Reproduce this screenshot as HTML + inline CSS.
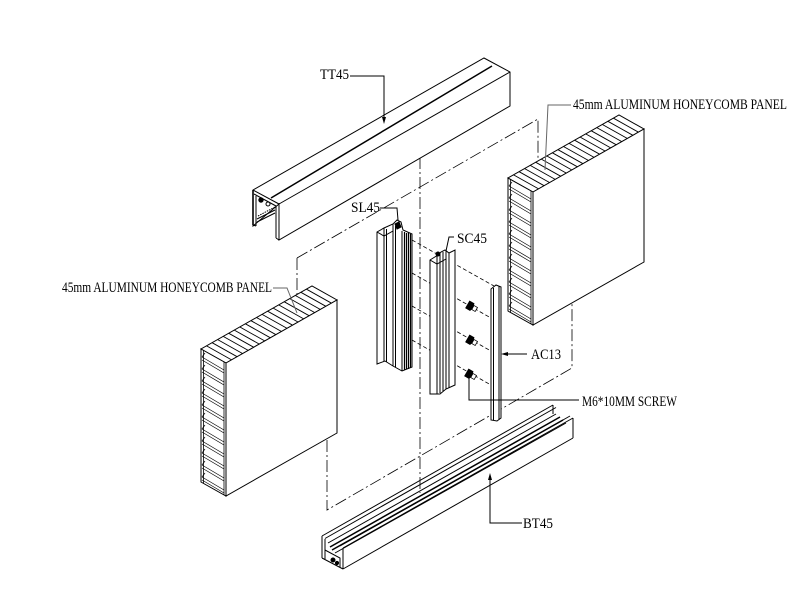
<!DOCTYPE html>
<html><head><meta charset="utf-8"><style>
html,body{margin:0;padding:0;background:#fff;}
svg{display:block;}
text{font-family:"Liberation Serif",serif;font-size:14.5px;fill:#000;}
</style></head><body>
<svg width="809" height="607" viewBox="0 0 809 607" xmlns="http://www.w3.org/2000/svg">
<defs>
<g id="panel" stroke="#000" stroke-width="1" fill="none">
  <polygon fill="#fff" points="533,192 644,129 619,115 508,178"/>
  <polygon fill="#fff" points="508,178 533,192 533,325 508,311"/>
  <polygon fill="#fff" points="533,192 644,129 644,262 533,325"/>
  <g stroke-width="0.9">
  <line x1="513.6" y1="174.9" x2="538.6" y2="188.9"/>
  <line x1="519.1" y1="171.7" x2="544.1" y2="185.7"/>
  <line x1="524.7" y1="168.6" x2="549.7" y2="182.6"/>
  <line x1="530.2" y1="165.4" x2="555.2" y2="179.4"/>
  <line x1="535.8" y1="162.3" x2="560.8" y2="176.3"/>
  <line x1="541.3" y1="159.1" x2="566.3" y2="173.1"/>
  <line x1="546.9" y1="156" x2="571.9" y2="170"/>
  <line x1="552.4" y1="152.8" x2="577.4" y2="166.8"/>
  <line x1="558" y1="149.7" x2="583" y2="163.7"/>
  <line x1="563.5" y1="146.5" x2="588.5" y2="160.5"/>
  <line x1="569.1" y1="143.4" x2="594.1" y2="157.4"/>
  <line x1="574.6" y1="140.2" x2="599.6" y2="154.2"/>
  <line x1="580.2" y1="137.1" x2="605.2" y2="151.1"/>
  <line x1="585.7" y1="133.9" x2="610.7" y2="147.9"/>
  <line x1="591.3" y1="130.8" x2="616.3" y2="144.8"/>
  <line x1="596.8" y1="127.6" x2="621.8" y2="141.6"/>
  <line x1="602.4" y1="124.5" x2="627.4" y2="138.5"/>
  <line x1="607.9" y1="121.3" x2="632.9" y2="135.3"/>
  <line x1="613.5" y1="118.2" x2="638.5" y2="132.2"/>
  </g>
  <line x1="510.5" y1="179" x2="510.5" y2="312.5" stroke-width="0.8"/>
  <line x1="531" y1="191" x2="531" y2="324" stroke-width="0.8"/>
  <path stroke-width="0.7" d="M509,186 L531,199 M509,189 L531,202 M509,198 L531,211 M509,201 L531,214 M509,210 L531,223 M509,213 L531,226 M509,222 L531,235 M509,225 L531,238 M509,234 L531,247 M509,237 L531,250 M509,246 L531,259 M509,249 L531,262 M509,258 L531,271 M509,261 L531,274 M509,270 L531,283 M509,273 L531,286 M509,282 L531,295 M509,285 L531,298 M509,294 L531,307 M509,297 L531,310 M509,306 L531,319 M509,309 L531,322"/>
  <path stroke-width="0.7" d="M509,186 L512,182 M509,198 L512,194 M509,210 L512,206 M509,222 L512,218 M509,234 L512,230 M509,246 L512,242 M509,258 L512,254 M509,270 L512,266 M509,282 L512,278 M509,294 L512,290 M509,306 L512,302"/>
</g>
</defs>

<!-- dash-dot assembly envelope -->
<g fill="none" stroke="#000" stroke-width="0.8" stroke-dasharray="12 3 2 3">
  <path d="M297,258 L538,119 L538,185"/>
  <path d="M297,258 L297,330"/>
  <path d="M420,157 L420,493"/>
  <path d="M327,400 L327,510 L572,368 L572,290"/>
</g>

<!-- dashed alignment lines -->
<g fill="none" stroke="#000" stroke-width="0.8" stroke-dasharray="4 2.5">
  <path d="M412,240 L494,286"/>
  <path d="M412,273 L492,318.6"/>
  <path d="M412,306 L492,351.6"/>
  <path d="M412,340 L492,385.6"/>
</g>

<!-- TT45 top rail -->
<g fill="none" stroke="#000" stroke-width="1">
  <polygon fill="#fff" points="253,190 484,58 510,72 510,106 279,240 279,204 253,226"/>
  <line x1="271" y1="198" x2="492" y2="66" stroke-width="1.5"/>
  <line x1="279" y1="204" x2="510" y2="72"/>
  <line x1="253" y1="190" x2="279" y2="204"/>
  <line x1="254" y1="194" x2="276" y2="206"/>
  <line x1="253" y1="190" x2="253" y2="225" stroke-width="1.6"/>
  <line x1="256" y1="196" x2="256" y2="226"/>
  <line x1="253" y1="225" x2="256" y2="226"/>
  <line x1="276" y1="206" x2="276" y2="238"/>
  <line x1="276" y1="238" x2="279" y2="240"/>
  <circle cx="261" cy="200" r="2.2" fill="#000"/>
  <circle cx="268" cy="204" r="2" fill="#fff"/>
  <line x1="257" y1="219" x2="275" y2="210"/>
  <line x1="257" y1="222" x2="275" y2="213"/>
  <line x1="258" y1="216" x2="275" y2="207" stroke-dasharray="1.5 1"/>
</g>

<!-- SL45 -->
<g fill="none" stroke="#000" stroke-width="1">
  <polygon fill="#fff" points="377,232 384,228 393,224 397,220 401,222 403,230 412,234 412,367 402,371 393,366 385,361 377,364"/>
  <line x1="384" y1="228" x2="384" y2="361"/>
  <line x1="386.5" y1="229" x2="386.5" y2="362"/>
  <line x1="393" y1="224" x2="393" y2="366"/>
  <line x1="395.5" y1="226" x2="395.5" y2="367"/>
  <line x1="402" y1="231" x2="402" y2="371"/>
  <line x1="404.5" y1="232" x2="404.5" y2="370" stroke-width="1.2"/>
  <line x1="406.5" y1="233" x2="406.5" y2="369" stroke-width="1.2"/>
  <line x1="408.5" y1="233" x2="408.5" y2="369" stroke-width="1.2"/>
  <line x1="410.5" y1="234" x2="410.5" y2="368" stroke-width="1.2"/>
  <path d="M395,224 L399,222 L401,227 L397,229 Z" fill="#000"/>
  <path d="M377,232 L384,236 L393,231"/>
</g>

<!-- SC45 -->
<g fill="none" stroke="#000" stroke-width="1">
  <polygon fill="#fff" points="430,260 438,255 441,252 445,250 449,253 455,250 455,385 446,389 440,394 430,394"/>
  <line x1="437" y1="256" x2="437" y2="394"/>
  <line x1="440" y1="253" x2="440" y2="393"/>
  <line x1="443" y1="252" x2="443" y2="391"/>
  <line x1="446" y1="251" x2="446" y2="389"/>
  <line x1="449" y1="253" x2="449" y2="388"/>
  <circle cx="438" cy="254" r="2" fill="#000"/>
  <path d="M430,260 L437,264 L446,259"/>
</g>

<!-- AC13 -->
<g fill="none" stroke="#000" stroke-width="1">
  <polygon fill="#fff" points="491,289 496,285 501,287 501,418 497,421 491,420"/>
  <line x1="493.5" y1="288" x2="493.5" y2="420"/>
  <line x1="499" y1="286" x2="499" y2="420"/>
</g>

<!-- screws -->
<g stroke="#000" stroke-width="0.8">
  <g transform="translate(472,307) rotate(30)"><path d="M-5,-4 L0,-4 L1,0 L0,4 L-5,4 Z" fill="#000"/><rect x="1" y="-2.3" width="4" height="4.6" fill="#fff"/></g>
  <g transform="translate(472,341) rotate(30)"><path d="M-5,-4 L0,-4 L1,0 L0,4 L-5,4 Z" fill="#000"/><rect x="1" y="-2.3" width="4" height="4.6" fill="#fff"/></g>
  <g transform="translate(471,375) rotate(30)"><path d="M-5,-4 L0,-4 L1,0 L0,4 L-5,4 Z" fill="#000"/><rect x="1" y="-2.3" width="4" height="4.6" fill="#fff"/></g>
</g>

<!-- BT45 bottom rail -->
<g fill="none" stroke="#000" stroke-width="1">
  <line x1="322" y1="536" x2="553" y2="405"/>
  <line x1="325" y1="538.5" x2="556" y2="407.5"/>
  <line x1="322" y1="536" x2="322" y2="558"/>
  <line x1="328" y1="543" x2="556" y2="414"/>
  <line x1="330" y1="547" x2="560" y2="417" stroke-width="1.5"/>
  <line x1="332" y1="550" x2="563" y2="420" stroke-width="1.5"/>
  <line x1="335" y1="553" x2="566" y2="423"/>
  <line x1="340" y1="546" x2="570" y2="416"/>
  <line x1="343" y1="548" x2="573" y2="418"/>
  <line x1="573" y1="418" x2="573" y2="438"/>
  <line x1="553" y1="405" x2="553" y2="414"/>
  <line x1="343" y1="569" x2="573" y2="438"/>
  <line x1="343" y1="548" x2="343" y2="569"/>
  <line x1="322" y1="558" x2="343" y2="569"/>
  <line x1="325" y1="539" x2="325" y2="559"/>
  <path d="M325,550 L340,558 L340,567"/>
  <circle cx="333" cy="560" r="2" fill="#000"/>
  <circle cx="337" cy="563" r="1.6" fill="#000"/>
</g>

<!-- panels -->
<use href="#panel"/>
<use href="#panel" transform="translate(-307,171)"/>

<!-- leaders -->
<g fill="none" stroke="#000" stroke-width="1">
  <path d="M350,76 L384,76 L384,118"/>
  <path d="M380,208 L397,208 L398,220"/>
  <path d="M454,237 L449,237 L446,251"/>
  <path d="M527,354 L506,354"/>
  <path d="M469,378 L469,400 L579,400"/>
  <path d="M522,523 L490,523 L490,479"/>
</g>
<g fill="none" stroke="#666" stroke-width="1">
  <path d="M571,105 L548,105 L545,170"/>
  <path d="M273,288 L287,288 L297,313"/>
</g>
<g fill="#000" stroke="none">
  <polygon points="382,117 386,117 384,124"/>
  <polygon points="501,354 508,352 508,356"/>
  <polygon points="488,480 492,480 490,473"/>
</g>

<!-- labels -->
<text x="320" y="79" textLength="29" lengthAdjust="spacingAndGlyphs">TT45</text>
<text x="351" y="212" textLength="29" lengthAdjust="spacingAndGlyphs">SL45</text>
<text x="457" y="243" textLength="30" lengthAdjust="spacingAndGlyphs">SC45</text>
<text x="531" y="359" textLength="30" lengthAdjust="spacingAndGlyphs">AC13</text>
<text x="582" y="406" textLength="95" lengthAdjust="spacingAndGlyphs">M6*10MM SCREW</text>
<text x="523" y="528" textLength="30" lengthAdjust="spacingAndGlyphs">BT45</text>
<text x="573" y="109" textLength="214" lengthAdjust="spacingAndGlyphs">45mm ALUMINUM HONEYCOMB PANEL</text>
<text x="62" y="292" textLength="210" lengthAdjust="spacingAndGlyphs">45mm ALUMINUM HONEYCOMB PANEL</text>
</svg>
</body></html>
